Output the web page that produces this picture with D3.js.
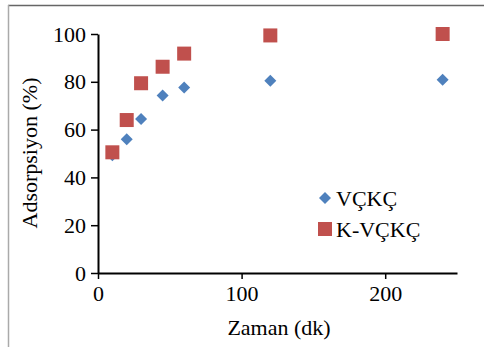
<!DOCTYPE html>
<html><head><meta charset="utf-8">
<script src="https://cdn.jsdelivr.net/npm/d3@7"></script>
</head><body style="margin:0">
<svg id="c" width="484" height="347"></svg>
<script>
const times = [10, 20, 30, 45, 60, 120, 240];
const vckc = [49.3, 56, 64.4, 74.3, 77.6, 80.4, 80.9];
const kvckc = [50.5, 64, 79.4, 86.3, 91.8, 99.4, 100];
const xTicks = [0, 100, 200];
const yTicks = [0, 20, 40, 60, 80, 100];
const seriesNames = ["VÇKÇ", "K-VÇKÇ"];

const fam = ["Liberation", "Ser" + "if"].join(" ");
const ff = d => `"${fam}"`;
const svg = d3.select("#c");
function txt(sel){ return sel.style("font-family", ff).style("font-size", "22px").attr("fill","#000"); }
// frame
svg.append("line").attr("x1",8).attr("x2",484).attr("y1",5.5).attr("y2",5.5).attr("stroke","#666").attr("stroke-width",1.5);
svg.append("line").attr("x1",8.5).attr("x2",8.5).attr("y1",5).attr("y2",347).attr("stroke","#aaa").attr("stroke-width",1.5);

const x = d3.scaleLinear().domain([0,250]).range([98,457]);
const y = d3.scaleLinear().domain([0,100]).range([273,34]);

const gx = svg.append("g").attr("transform","translate(0,273)")
  .call(d3.axisBottom(x).tickValues(xTicks).tickSize(6).tickSizeOuter(0).tickPadding(6));
const gy = svg.append("g").attr("transform","translate(98,0)")
  .call(d3.axisLeft(y).tickValues(yTicks).tickSize(7).tickSizeOuter(0).tickPadding(5));
[gx,gy].forEach(g=>{
  g.attr("font-family", null).attr("font-size", null);
  g.select(".domain").attr("stroke","#000").attr("stroke-width",2);
  g.selectAll(".tick line").attr("stroke","#000").attr("stroke-width",1.5);
  txt(g.selectAll("text"));
});

const blue = "#4F81BD", red = "#C0504D";
const diamond = d3.symbol().type(d3.symbolSquare).size(72);
svg.append("g").selectAll("path").data(times).join("path")
  .attr("d", diamond)
  .attr("transform",(d,i)=>`translate(${x(d)},${y(vckc[i])}) rotate(45)`)
  .attr("fill",blue);
svg.append("g").selectAll("rect").data(times).join("rect")
  .attr("x",d=>x(d)-7).attr("y",(d,i)=>y(kvckc[i])-7)
  .attr("width",14).attr("height",14).attr("fill",red);

// legend
svg.append("path").attr("d",diamond).attr("transform","translate(325,198) rotate(45)").attr("fill",blue);
svg.append("rect").attr("x",318).attr("y",222).attr("width",14).attr("height",14).attr("fill",red);
txt(svg.append("text").attr("x",336).attr("y",206).text(seriesNames[0]));
txt(svg.append("text").attr("x",336).attr("y",237).text(seriesNames[1]));

txt(svg.append("text").attr("x",279).attr("y",335).attr("text-anchor","middle").text("Zaman (dk)"));
txt(svg.append("text").attr("transform","translate(37,153) rotate(-90)").attr("text-anchor","middle").text("Adsorpsiyon (%)"));
</script>
</body></html>
